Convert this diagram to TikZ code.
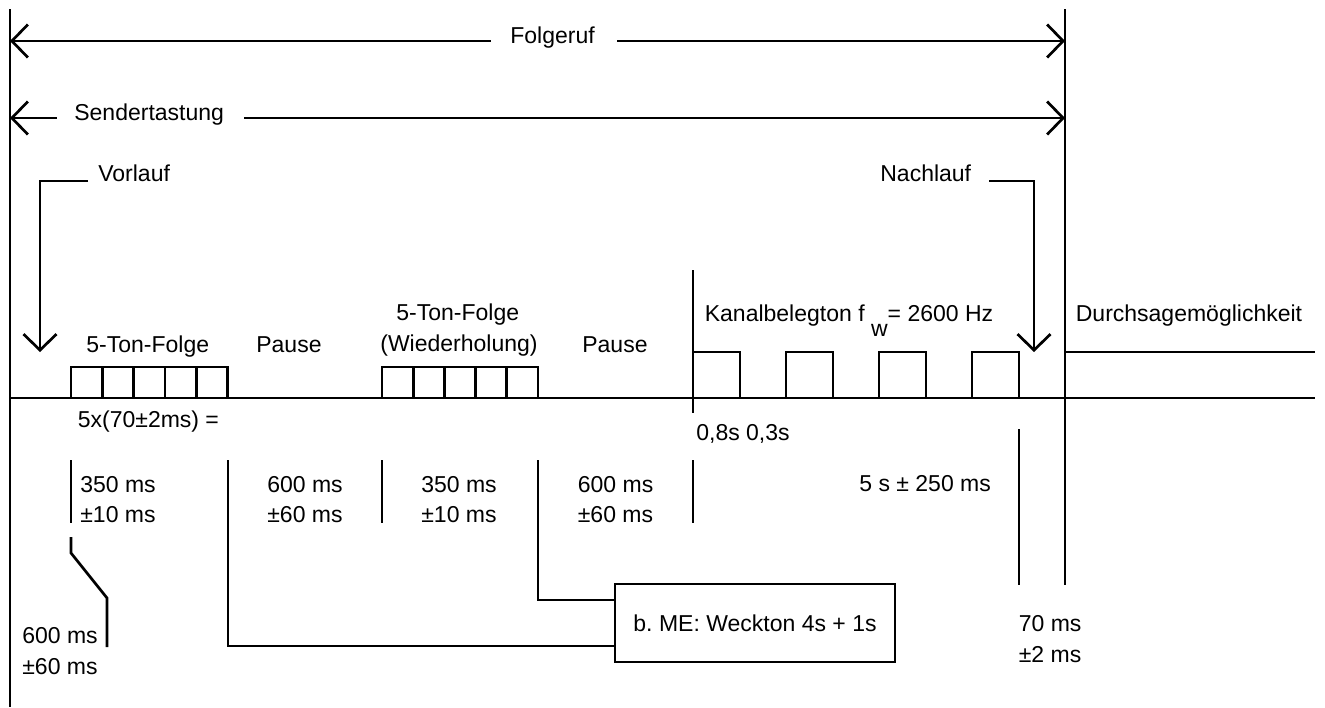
\documentclass[tikz,border=0pt]{standalone}
\usepackage{fontspec}
\setmainfont{Liberation Sans}
\usetikzlibrary{arrows.meta}
\frenchspacing
\begin{document}
\begin{tikzpicture}[x=1pt,y=-1pt,
  line width=2.7pt,
  barb/.tip={Straight Barb[length=16pt,width=33pt]},
  lbl/.style={font=\fontsize{23pt}{31pt}\selectfont, inner sep=0pt, anchor=base west},
  boxnode/.style={draw, line width=2.7pt, minimum width=280pt, minimum height=78pt, inner sep=0pt,
    font=\fontsize{23pt}{31pt}\selectfont}
]
\useasboundingbox (0,0) rectangle (1325,707);

% frame lines
\coordinate (L0) at (10,9);
\coordinate (L1) at (10,707);
\coordinate (R0) at (1065,9);
\coordinate (R1) at (1065,585);
\draw (L0) -- (L1);
\draw (R0) -- (R1);

% Folgeruf
\coordinate (fa) at (10,41);
\coordinate (fb) at (1065,41);
\node[lbl] (folg) at (509,43) {Folgeruf};
\draw[barb-, shorten >=18pt] (fa) -- (folg.west |- fa);
\draw[-barb, shorten <=21pt] (folg.east |- fa) -- (fb);

% Sendertastung
\coordinate (sa) at (10,118);
\coordinate (sb) at (1065,118);
\node[lbl] (send) at (73,120) {Sendertastung};
\draw[barb-, shorten >=16pt] (sa) -- (send.west |- sa);
\draw[-barb, shorten <=19pt] (send.east |- sa) -- (sb);

% Vorlauf
\node[lbl] (vorl) at (97,181) {Vorlauf};
\coordinate (vt) at (40,352);
\draw[-barb] ([xshift=-9pt]vorl.base west) -| (vt);

% Nachlauf
\node[lbl] (nachl) at (879,181) {Nachlauf};
\coordinate (nt) at (1034,352);
\draw[-barb] ([xshift=17pt]nachl.base east) -| (nt);

% base lines
\coordinate (b0) at (10,398);
\coordinate (b1) at (1315,398);
\coordinate (u0) at (1065,352);
\coordinate (u1) at (1315,352);
\draw (b0) -- (b1);
\draw (u0) -- (u1);

% tone boxes
\foreach \i in {0,...,4} {
  \draw (71+\i*31.3,367) rectangle ++(31.3,31);
  \draw (382+\i*31.2,367) rectangle ++(31.2,31);
}
% Kanalbelegton boxes
\foreach \x in {693,786,879,972} {
  \draw (\x,352) rectangle ++(47,46);
}
\coordinate (k0) at (693,270);
\coordinate (k1) at (693,413);
\draw (k0) -- (k1);

% upper labels
\node[lbl] (tf1) at (85,352) {5-Ton-Folge};
\node[lbl] (p1) at (255,352) {Pause};
\node[lbl] (tf2) at (395,320) {5-Ton-Folge};
\node[lbl] (wh) at (379,351) {(Wiederholung)};
\node[lbl] (p2) at (581,352) {Pause};
\node[lbl] (kan) at (703.5,321) {Kanalbelegton f \raisebox{-15pt}{w}= 2600 Hz};
\node[lbl] (durch) at (1074.5,321) {Durchsagemöglichkeit};

% lower labels
\node[lbl] (fx) at (76.5,427) {5x(70±2ms) =};
\node[lbl] (ks) at (695,440) {0,8s 0,3s};
\node[lbl] (a1) at (79,492) {350 ms};
\node[lbl] (a2) at (79,522) {±10 ms};
\node[lbl] (b1t) at (266,492) {600 ms};
\node[lbl] (b2t) at (266,522) {±60 ms};
\node[lbl] (c1) at (420,492) {350 ms};
\node[lbl] (c2) at (420,522) {±10 ms};
\node[lbl] (d1) at (576.5,492) {600 ms};
\node[lbl] (d2) at (576.5,522) {±60 ms};
\node[lbl] (e1) at (858,491) {5 s ± 250 ms};
\node[lbl] (g1) at (21,643.5) {600 ms};
\node[lbl] (g2) at (21,674) {±60 ms};
\node[lbl] (h1) at (1017.5,631) {70 ms};
\node[lbl] (h2) at (1017.5,662) {±2 ms};

% box
\node[boxnode] (box) at (755,623) {b. ME: Weckton 4s + 1s};

% bracket lines
\coordinate (m1a) at (71,460);
\coordinate (m1b) at (71,522.5);
\draw (m1a) -- (m1b);
\coordinate (m2a) at (71,537);
\coordinate (m2b) at (71,553);
\coordinate (m2c) at (107,598);
\coordinate (m2d) at (107,647);
\draw (m2a) -- (m2b) -- (m2c) -- (m2d);
\coordinate (m3a) at (228,460);
\coordinate (m3b) at (228,646);
\draw (m3a) -- (m3b) -- (m3b -| box.west);
\coordinate (m4a) at (382,460);
\coordinate (m4b) at (382,522.5);
\draw (m4a) -- (m4b);
\coordinate (m5a) at (538,460);
\coordinate (m5b) at (538,600);
\draw (m5a) -- (m5b) -- (m5b -| box.west);
\coordinate (m6a) at (693,460);
\coordinate (m6b) at (693,523);
\draw (m6a) -- (m6b);
\coordinate (m7a) at (1019,429);
\coordinate (m7b) at (1019,585);
\draw (m7a) -- (m7b);
\end{tikzpicture}
\end{document}
